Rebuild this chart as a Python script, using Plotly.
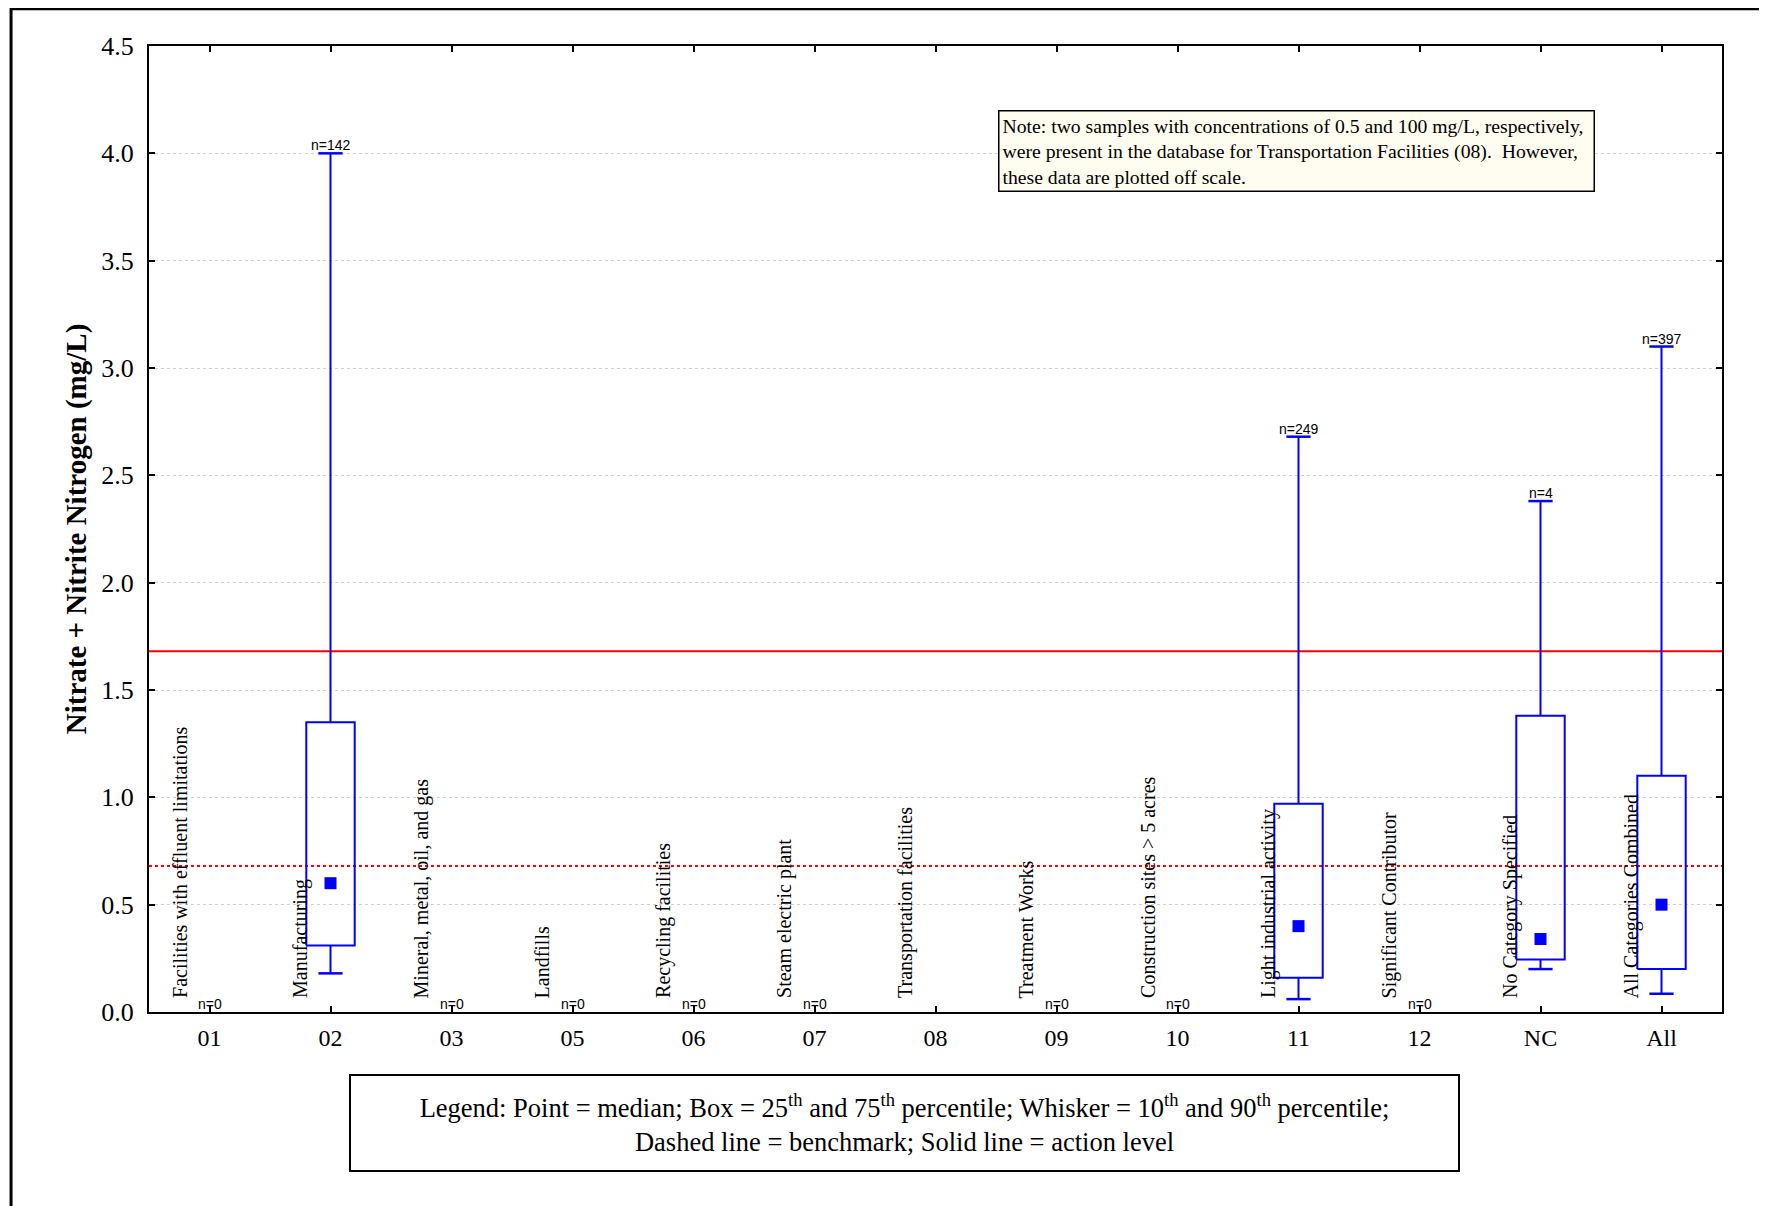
import plotly.graph_objects as go

# ---------------- data ----------------
categories = ["01", "02", "03", "05", "06", "07", "08", "09", "10", "11", "12", "NC", "All"]
category_names = [
    "Facilities with effluent limitations",
    "Manufacturing",
    "Mineral, metal, oil, and gas",
    "Landfills",
    "Recycling facilities",
    "Steam electric plant",
    "Transportation facilities",
    "Treatment Works",
    "Construction sites > 5 acres",
    "Light industrial activity",
    "Significant Contributor",
    "No Category Specified",
    "All Categories Combined",
]
n_counts = [0, 142, 0, 0, 0, 0, None, 0, 0, 249, 0, 4, 397]
p10 = [None, 0.18, None, None, None, None, None, None, None, 0.06, None, 0.20, 0.085]
p25 = [None, 0.31, None, None, None, None, None, None, None, 0.16, None, 0.245, 0.20]
median = [None, 0.60, None, None, None, None, None, None, None, 0.40, None, 0.34, 0.50]
p75 = [None, 1.35, None, None, None, None, None, None, None, 0.97, None, 1.38, 1.10]
p90 = [None, 4.00, None, None, None, None, None, None, None, 2.68, None, 2.38, 3.10]
action_level = 1.68
benchmark = 0.68

BLUE = "#0000FF"
SERIF = "Liberation Serif, Times New Roman, serif"
SANS = "Liberation Sans, Arial, sans-serif"

box_half = 0.2
cap_half = 0.1

fig = go.Figure()

bx, by, wx, wy, cx, cy, mx, my = [], [], [], [], [], [], [], []
for i, cat in enumerate(categories):
    if p25[i] is None:
        continue
    bx += [i - box_half, i + box_half, i + box_half, i - box_half, i - box_half, None]
    by += [p25[i], p25[i], p75[i], p75[i], p25[i], None]
    wx += [i, i, None, i, i, None]
    wy += [p75[i], p90[i], None, p25[i], p10[i], None]
    cx += [i - cap_half, i + cap_half, None, i - cap_half, i + cap_half, None]
    cy += [p90[i], p90[i], None, p10[i], p10[i], None]
    mx.append(i)
    my.append(median[i])

# reference lines
fig.add_trace(go.Scatter(x=[-0.5, len(categories) - 0.5], y=[action_level, action_level],
                         mode="lines", line=dict(color="#FF0000", width=2), hoverinfo="skip"))
fig.add_trace(go.Scatter(x=[-0.5, len(categories) - 0.5], y=[benchmark, benchmark],
                         mode="lines", line=dict(color="#FF0000", width=2, dash="dot"), hoverinfo="skip"))

fig.add_trace(go.Scatter(x=wx, y=wy, mode="lines", line=dict(color=BLUE, width=2), hoverinfo="skip"))
fig.add_trace(go.Scatter(x=cx, y=cy, mode="lines", line=dict(color=BLUE, width=2.5), hoverinfo="skip"))
fig.add_trace(go.Scatter(x=bx, y=by, mode="lines", line=dict(color=BLUE, width=2), hoverinfo="skip"))
fig.add_trace(go.Scatter(x=mx, y=my, mode="markers",
                         marker=dict(symbol="square", size=12, color=BLUE), hoverinfo="skip"))

annotations = []
for i, cat in enumerate(categories):
    # rotated category description
    annotations.append(dict(
        x=i - 0.25, y=0.055, xref="x", yref="y", text=category_names[i], textangle=-90,
        showarrow=False, xanchor="center", yanchor="bottom",
        font=dict(family=SERIF, size=20, color="black")))
    if n_counts[i] is not None:
        ytop = p90[i] if p90[i] is not None else 0.0
        annotations.append(dict(
            x=i, y=ytop, xref="x", yref="y", text=f"n={n_counts[i]}", showarrow=False,
            xanchor="center", yanchor="bottom", yshift=-2,
            font=dict(family=SANS, size=14, color="black")))

annotations.append(dict(
    x=0.5397, y=0.9337, xref="paper", yref="paper", xanchor="left", yanchor="top",
    text=("Note: two samples with concentrations of 0.5 and 100 mg/L, respectively,<br>"
          "were present in the database for Transportation Facilities (08).  However,<br>"
          "these data are plotted off scale."),
    align="left", showarrow=False, bgcolor="#FFFCF0", bordercolor="black", borderwidth=1.5,
    borderpad=3, width=588, font=dict(family=SERIF, size=19.7, color="black")))

annotations.append(dict(
    x=0.4803, y=-0.0642, xref="paper", yref="paper", xanchor="center", yanchor="top",
    text=("Legend: Point = median; Box = 25<sup>th</sup> and 75<sup>th</sup> percentile; "
          "Whisker = 10<sup>th</sup> and 90<sup>th</sup> percentile;<br>"
          "Dashed line = benchmark; Solid line = action level"),
    align="center", showarrow=False, bgcolor="white", bordercolor="black", borderwidth=2,
    width=1105, height=92, font=dict(family=SERIF, size=26.5, color="black")))

shapes = [dict(type="rect", xref="paper", yref="paper", x0=-0.0877, x1=1.2, y0=-0.5, y1=1.0385,
               line=dict(color="black", width=3), fillcolor="rgba(0,0,0,0)", layer="below")]

fig.update_layout(
    width=1759, height=1198,
    margin=dict(l=141, r=45, t=38, b=194),
    paper_bgcolor="white", plot_bgcolor="white",
    showlegend=False,
    annotations=annotations,
    shapes=shapes,
    font=dict(family=SERIF, color="black"),
)
fig.update_xaxes(
    range=[-0.5, len(categories) - 0.5], tickmode="array",
    tickvals=list(range(len(categories))), ticktext=categories,
    ticks="inside", ticklen=6, tickcolor="black", tickwidth=1.5,
    showline=True, linecolor="black", linewidth=2, mirror="ticks",
    showgrid=False, zeroline=False, ticklabelstandoff=3,
    tickfont=dict(family=SERIF, size=24, color="black"),
)
fig.update_yaxes(
    range=[0, 4.5], tickmode="array", tickvals=[0, 0.5, 1, 1.5, 2, 2.5, 3, 3.5, 4, 4.5],
    ticktext=["0.0", "0.5", "1.0", "1.5", "2.0", "2.5", "3.0", "3.5", "4.0", "4.5"],
    ticks="inside", ticklen=6, tickcolor="black", tickwidth=1.5,
    showline=True, linecolor="black", linewidth=2, mirror="ticks",
    showgrid=True, gridcolor="#d0d0d0", griddash="dot", gridwidth=1, zeroline=False,
    ticklabelstandoff=8,
    tickfont=dict(family=SERIF, size=26, color="black"),
    title=dict(text="<b>Nitrate + Nitrite Nitrogen (mg/L)</b>", standoff=6,
               font=dict(family=SERIF, size=29, color="black")),
)

fig.write_html("out.html")
